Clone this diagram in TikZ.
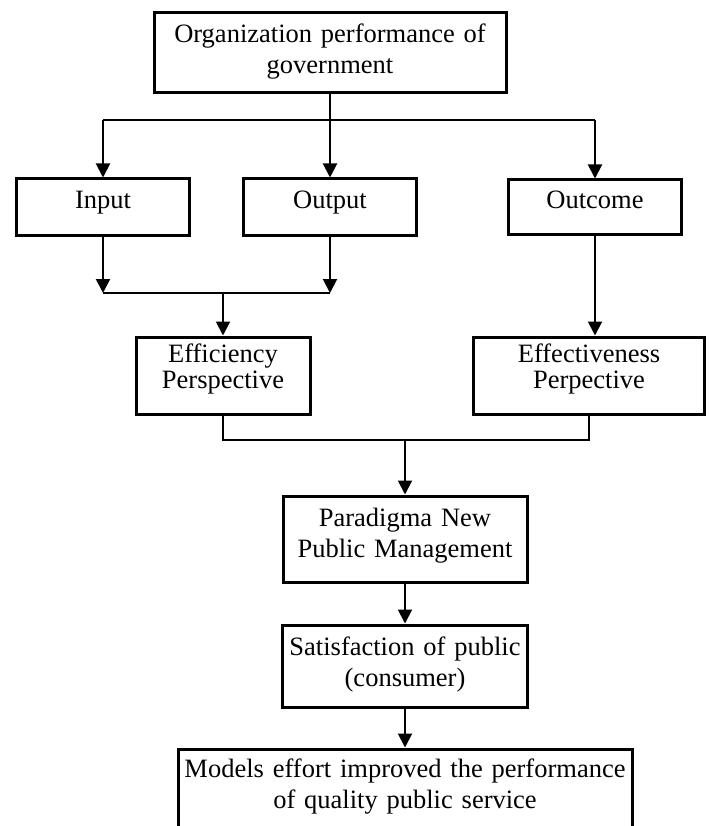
\documentclass[tikz,border=0pt]{standalone}
\usepackage{fontspec}
\setmainfont{Liberation Serif}
\usetikzlibrary{arrows.meta, positioning}

\tikzset{
    box/.style={draw, line width=3pt, inner sep=0pt, align=center,
        font=\fontsize{26.5}{31}\selectfont},
    line/.style={line width=2pt},
    arrow/.style={line width=2pt, -{Triangle[length=14pt, width=14pt]}}
}

\begin{document}
\begin{tikzpicture}[x=1pt, y=1pt, node distance=40pt]
    \useasboundingbox (0,0) rectangle (709,-826);

    \node (org) [box, text width=352pt, text height=30pt, text depth=50pt] at (330,-53) {Organization performance of\\government};

    \node (in) [box, text width=173pt, text height=29pt, text depth=27pt] at (103,-207) {Input};
    \node (out) [box, text width=173pt, text height=29pt, text depth=27pt, right=51pt of in] {Output};
    \node (outc) [box, text width=173pt, text height=29pt, text depth=25pt, right=89pt of out] {Outcome};

    \node (eff) [box, text width=174pt, text height=25pt, text depth=52pt, font=\fontsize{26.5}{26}\selectfont] at (223,-375.5) {Efficiency\\Perspective};
    \node (effv) [box, text width=231pt, text height=25pt, text depth=52pt, font=\fontsize{26.5}{26}\selectfont] at (589,-375.5) {Effectiveness\\Perpective};

    \node (npm) [box, text width=244pt, text height=30pt, text depth=56pt] at (405,-539) {Paradigma New\\Public Management};
    \node (sat) [box, text width=245pt, text height=30pt, text depth=52pt, below=40pt of npm] {Satisfaction of public\\(consumer)};
    \node (mod) [box, text width=454pt, text height=28pt, text depth=70pt, below=39pt of sat] {Models effort improved the performance\\of quality public service};

    % fork below the top box
    \draw [line] (org.south) -- ++(0,-26) coordinate (fork1);
    \draw [line] (in.north |- fork1) -- (outc.north |- fork1);
    \path [arrow]
        (fork1) edge (out)
        (in.north |- fork1) edge (in)
        (outc.north |- fork1) edge (outc);

    % input and output join into efficiency
    \coordinate (join1) at (223,-293);
    \draw [line] (in.south |- join1) -- (out.south |- join1);
    \path [arrow]
        (in.south) edge (in.south |- join1)
        (out.south) edge (out.south |- join1)
        (join1) edge (eff)
        (outc.south) edge (outc.south |- effv.north);

    % both perspectives into the paradigm
    \draw [line] (eff.south) -- ++(0,-24) coordinate (join2) -| (effv.south);
    \path [arrow]
        (npm.north |- join2) edge (npm)
        (npm) edge (sat)
        (sat) edge (mod);
\end{tikzpicture}
\end{document}
